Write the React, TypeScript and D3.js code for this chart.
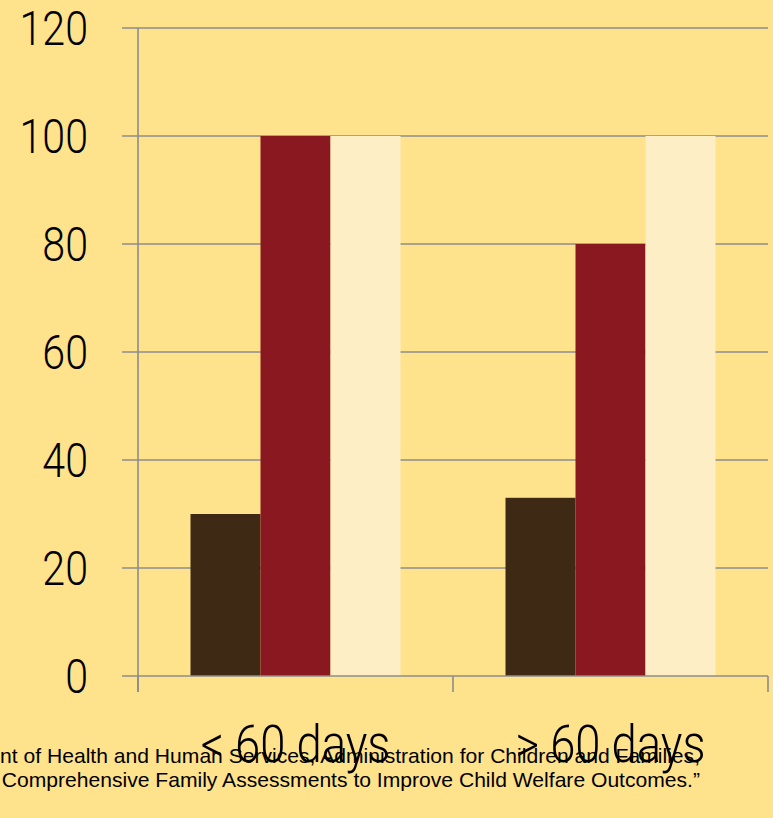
import React from "react";
import * as d3 from "d3";

const categories = ["< 60 days", "> 60 days"];
const seriesKeys = ["a", "b", "c"];
const seriesColors = ["#3E2A14", "#8A1820", "#FEEEC6"];
const values: number[][] = [
  [30, 100, 100],
  [33, 80, 100],
];
const yTicks = [0, 20, 40, 60, 80, 100, 120];
const sourceLines = [
  "nt of Health and Human Services, Administration for Children and Families,",
  "Comprehensive Family Assessments to Improve Child Welfare Outcomes.\u201D",
];

const W = 773;
const H = 818;
const left = 138;
const right = 768;
const top = 28;
const bottom = 676;

export default function App() {
  const y = d3.scaleLinear().domain([0, 120]).range([bottom, top]);
  const x0 = d3.scaleBand<string>().domain(categories).range([left, right]);
  const inner = d3
    .scaleBand<string>()
    .domain(seriesKeys)
    .range([0, x0.bandwidth()])
    .paddingOuter(0.75)
    .paddingInner(0);

  const labelFont = "Roboto, 'DejaVu Sans Condensed', sans-serif";

  return (
    <svg
      width={W}
      height={H}
      style={{ position: "absolute", left: 0, top: 0, display: "block" }}
    >
      <rect x={0} y={0} width={W} height={H} fill="#FFE28C" />
      {yTicks.map((t) => (
        <g key={t}>
          {t > 0 && (
            <line
              x1={122}
              x2={right}
              y1={y(t)}
              y2={y(t)}
              stroke="#8C8C8C"
              strokeWidth={1.6}
            />
          )}
          <text
            x={88}
            y={y(t)}
            dy="0.355em"
            textAnchor="end"
            fontFamily={labelFont}
            fontWeight={300}
            fontSize={49}
            fill="#000"
            transform={`translate(88,0) scale(0.84,1) translate(-88,0)`}
          >
            {t}
          </text>
        </g>
      ))}
      {categories.map((c, i) => (
        <g key={c} transform={`translate(${x0(c)},0)`}>
          {seriesKeys.map((k, j) => (
            <rect
              key={k}
              x={inner(k)}
              y={y(values[i][j])}
              width={inner.bandwidth()}
              height={y(0) - y(values[i][j])}
              fill={seriesColors[j]}
            />
          ))}
        </g>
      ))}
      <line x1={left} x2={left} y1={top} y2={692} stroke="#8C8C8C" strokeWidth={1.6} />
      <line x1={122} x2={right} y1={bottom} y2={bottom} stroke="#8C8C8C" strokeWidth={1.6} />
      {[left, ...categories.map((c) => (x0(c) as number) + x0.bandwidth())].map((tx, i) => (
        <line key={i} x1={tx} x2={tx} y1={bottom} y2={692} stroke="#8C8C8C" strokeWidth={1.6} />
      ))}
      {sourceLines.map((s, i) => (
        <text
          key={i}
          x={700}
          y={763 + i * 24}
          textAnchor="end"
          fontFamily="'Liberation Sans', Arial, sans-serif"
          fontSize={21.1}
          fill="#000"
        >
          {s}
        </text>
      ))}
      {categories.map((c) => {
        const cx = (x0(c) as number) + x0.bandwidth() / 2;
        return (
          <text
            key={c}
            x={cx}
            y={762}
            textAnchor="middle"
            fontFamily={labelFont}
            fontWeight={300}
            fontSize={51}
            fill="#000"
            transform={`translate(${cx},0) scale(0.89,1) translate(${-cx},0)`}
          >
            {c}
          </text>
        );
      })}
    </svg>
  );
}
